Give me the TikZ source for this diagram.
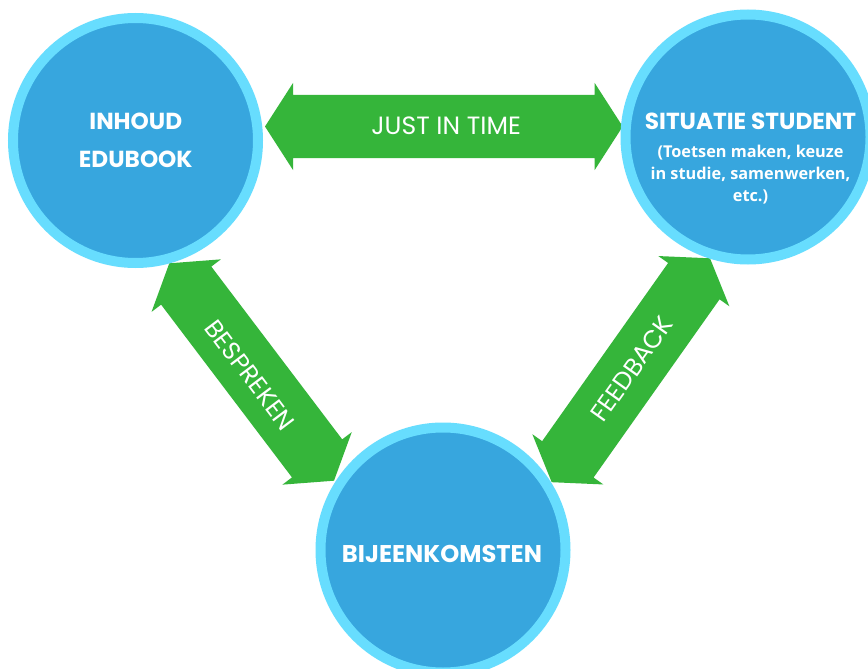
\documentclass[tikz,border=0pt]{standalone}
\usepackage{fontspec}
\setmainfont{Poppins}
\newfontfamily\subfont{Open Sans}
\usetikzlibrary{calc}
\definecolor{circblue}{HTML}{37A6DE}
\definecolor{ringblue}{HTML}{67DDFE}
\definecolor{arrowgreen}{HTML}{35B53A}
\tikzset{
  bubble/.style={circle, fill=circblue, draw=ringblue, line width=10pt, minimum size=245pt, inner sep=0pt},
  headtext/.style={text=white, font=\bfseries\fontsize{23.2}{38.5}\selectfont, align=center, anchor=base, inner sep=0pt},
  subtext/.style={text=white, font=\subfont\bfseries\fontsize{16.3}{22}\selectfont, align=center, anchor=base, inner sep=0pt},
  arrowtext/.style={text=white, font=\fontsize{25}{28}\selectfont, inner sep=0pt}
}
\newcommand\bigarrow[2]{%
  \coordinate (h1) at ($(#1)!28pt!(#2)$);
  \coordinate (h2) at ($(#2)!28pt!(#1)$);
  \fill[arrowgreen] (#1)
    -- ($(h1)!43.5pt!90:(#2)$) -- ($(h1)!31.5pt!90:(#2)$)
    -- ($(h2)!31.5pt!-90:(#1)$) -- ($(h2)!43.5pt!-90:(#1)$)
    -- (#2)
    -- ($(h2)!43.5pt!90:(#1)$) -- ($(h2)!31.5pt!90:(#1)$)
    -- ($(h1)!31.5pt!-90:(#2)$) -- ($(h1)!43.5pt!-90:(#2)$)
    -- cycle;}
\begin{document}
\begin{tikzpicture}[x=1pt, y=-1pt]
\useasboundingbox (0,0) rectangle (868,669);
\fill[white] (0,0) rectangle (868,669);
\clip (0,0) rectangle (868,669);
% arrow end points
\coordinate (jL) at (265,126.5);
\coordinate (jR) at (622.7,126.5);
\coordinate (bT) at (169.3,263.3);
\coordinate (bB) at (334,480.7);
\coordinate (fT) at (710,258.3);
\coordinate (fB) at (551.7,482.2);
\bigarrow{jL}{jR}
\bigarrow{bT}{bB}
\bigarrow{fT}{fB}
% circles
\node[bubble] (inhoud) at (135.5,140.5) {};
\node[bubble] (situatie) at (748,137) {};
\node[bubble] (bijeen) at (443,550) {};
% texts (base anchor = baseline of last line)
\node[headtext] (t1) at (135.8,167.7) {INHOUD\\EDUBOOK};
\node[headtext] (t2) at (750.5,129.3) {SITUATIE STUDENT};
\node[subtext] (t3) at (750.5,201.7) {(Toetsen maken, keuze\\in studie, samenwerken,\\etc.)};
\node[headtext, font=\bfseries\fontsize{24.2}{28}\selectfont] (t4) at (442,562.7) {BIJEENKOMSTEN};
\node[arrowtext, anchor=base] (l1) at (446.2,134) {JUST IN TIME};
\node[arrowtext, rotate=-53] (l2) at (250,375) {BESPREKEN};
\node[arrowtext, rotate=54.5] (l3) at (632,369) {FEEDBACK};
\end{tikzpicture}
\end{document}
